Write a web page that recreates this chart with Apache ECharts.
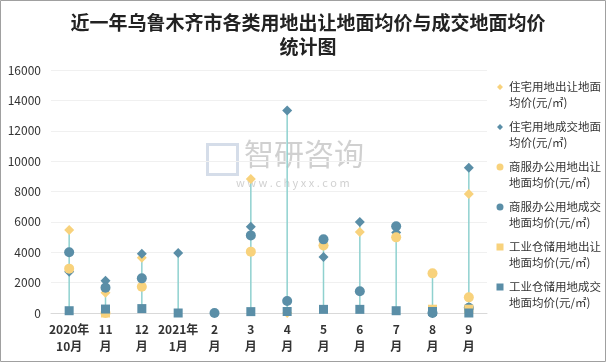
<!DOCTYPE html>
<html><head><meta charset="utf-8">
<script src="https://cdn.jsdelivr.net/npm/echarts@6/dist/echarts.min.js"></script>
<style>html,body{margin:0;padding:0;background:#fff}#c{width:606px;height:363px}</style>
</head><body><div id="c"></div>
<script>
const categories = ['2020年\n10月','11\n月','12\n月','2021年\n1月','2\n月','3\n月','4\n月','5\n月','6\n月','7\n月','8\n月','9\n月'];
const yTicks = [0,2000,4000,6000,8000,10000,12000,14000,16000];
const resOut  = [5460, 1340, 3640, null, null, 8820, 0, 4450, 5330, 4980, null, 7830];
const resDeal = [2720, 2130, 3900, 3950, null, 5680, 13340, 3690, 5990, 5300, 0, 9570];
const comOut  = [2920, 0, 1730, null, null, 4040, null, 4450, null, 4980, 2610, 1030];
const comDeal = [4000, 1670, 2280, null, 0, 5110, 790, 4850, 1430, 5710, 0, 350];
const indOut  = [null, 0, null, null, null, null, null, null, null, null, 250, 250];
const indDeal = [150, 260, 290, 0, null, 90, 100, 240, 240, 150, 100, 0];
const names = ['住宅用地出让地面均价(元/㎡)','住宅用地成交地面均价(元/㎡)','商服办公用地出让地面均价(元/㎡)','商服办公用地成交地面均价(元/㎡)','工业仓储用地出让地面均价(元/㎡)','工业仓储用地成交地面均价(元/㎡)'];

const YEL = '#F8D27C', BLU = '#5A8EA7', LINE = '#8FD1CF';
const all = [resOut,resDeal,comOut,comDeal,indOut,indDeal];
const rangeData = categories.map((c,i)=>{
  const v = all.map(a=>a[i]).filter(x=>x!==null);
  return [i, Math.min(...v), Math.max(...v)];
});
const font = '"Noto Sans CJK SC", "Microsoft YaHei", sans-serif';
// legend icons: shape drawn near the top of an 8x32 box (bbox fixed by tiny corner subpaths)
const box = 'M0,0 L0.01,0 Z M8,32 L7.99,32 Z ';
const icDiamond = 'path://' + box + 'M4,5 L7,8 L4,11 L1,8 Z';
const icCircle = 'path://' + box + 'M0.5,8 A3.5,3.5 0 1,0 7.5,8 A3.5,3.5 0 1,0 0.5,8 Z';
const icRect = 'path://' + box + 'M0.5,4.5 L7.5,4.5 L7.5,11.5 L0.5,11.5 Z';

const chart = echarts.init(document.getElementById('c'));
function sc(name, data, symbol, color, size, z){
  return {type:'scatter', name, data, symbol, symbolSize:size, itemStyle:{color, opacity:1}, z, emphasis:{disabled:true}};
}
chart.setOption({
  animation:false,
  textStyle:{fontFamily:font},
  title:{text:'近一年乌鲁木齐市各类用地出让地面均价与成交地面均价\n统计图', left:303, textAlign:'center', top:6,
    textStyle:{fontSize:19, fontWeight:'bold', color:'#222', lineHeight:24, fontFamily:font}},
  grid:{left:51, right:119, top:70, bottom:50},
  legend:{orient:'vertical', left:491, top:74, itemGap:8, itemWidth:8, itemHeight:32,
    formatter:n=>n.slice(0,8)+'\n'+n.slice(8),
    textStyle:{fontSize:11.5, color:'#333', lineHeight:16, fontFamily:font},
    data:[{name:names[0],icon:icDiamond},{name:names[1],icon:icDiamond},{name:names[2],icon:icCircle},{name:names[3],icon:icCircle},{name:names[4],icon:icRect},{name:names[5],icon:icRect}]},
  xAxis:{type:'category', data:categories, boundaryGap:true,
    axisLine:{lineStyle:{color:'#d9d9d9'}}, axisTick:{show:false},
    axisLabel:{interval:0, fontSize:12, fontWeight:'bold', color:'#333', lineHeight:17, margin:8}},
  yAxis:{type:'value', min:0, max:16000, interval:2000,
    axisLine:{show:false}, axisTick:{show:false},
    splitLine:{lineStyle:{color:'#f0f0f0'}},
    axisLabel:{fontSize:12, color:'#333', margin:10, formatter:v=>String(v)}},
  graphic:[
    {type:'rect', shape:{x:0.5,y:0.5,width:605,height:361}, style:{fill:'none', stroke:'#a0a0a0', lineWidth:1}, z:-1},
    {type:'text', left:244, top:139, style:{text:'智研咨询', fontSize:30, fill:'rgba(150,150,150,0.45)', fontFamily:font}, z:0},
    {type:'text', left:236, top:177, style:{text:'w w w . c h y x x . c o m', fontSize:11, fill:'rgba(150,150,150,0.45)', fontFamily:font}, z:0},
    {type:'rect', left:205, top:142, shape:{width:30,height:30}, style:{fill:'none', stroke:'rgba(150,170,200,0.4)', lineWidth:3}, z:0}
  ],
  series:[
    {type:'custom', name:'range', data:rangeData, z:1, silent:true,
      renderItem:(params, api)=>{
        const a = api.coord([api.value(0), api.value(1)]);
        const b = api.coord([api.value(0), api.value(2)]);
        return {type:'line', shape:{x1:a[0],y1:a[1],x2:b[0],y2:b[1]}, style:{stroke:LINE, lineWidth:1.5}};
      }},
    sc(names[0], resOut, 'diamond', YEL, 10, 3),
    sc(names[1], resDeal, 'diamond', BLU, 10, 3),
    sc(names[2], comOut, 'circle', YEL, 10, 3),
    sc(names[3], comDeal, 'circle', BLU, 10, 3),
    sc(names[4], indOut, 'rect', YEL, 9, 3),
    sc(names[5], indDeal, 'rect', BLU, 9, 3)
  ]
});
</script></body></html>
